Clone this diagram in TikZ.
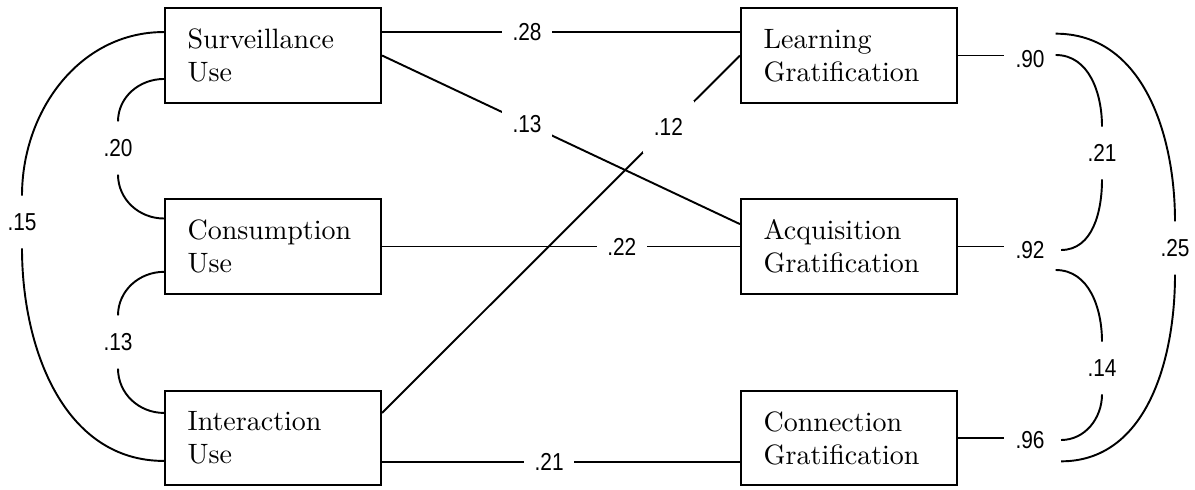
\documentclass[tikz,border=0pt]{standalone}
\usepackage{fontspec}
\newfontfamily\numfont[FakeStretch=0.85]{Liberation Sans}
\usepackage{tikz}
\usetikzlibrary{positioning}

\begin{document}
\begin{tikzpicture}[x=0.375pt, y=-0.375pt,
    var/.style={draw, line width=0.8pt, minimum height=35.5pt, text width=64pt,
      inner xsep=8.5pt, align=left, font=\fontsize{10.5}{12.4}\selectfont},
    coef/.style={font=\numfont\fontsize{9.2}{10}\selectfont, inner xsep=4pt, inner ysep=6.5pt},
    link/.style={line width=0.72pt}]
            \useasboundingbox (0,0) rectangle (1195,489);

            % the uses on the left
            \node[var] (sur) at (273,55.5) {Surveillance\\Use};
            \node[var] (con) at (273,246.5) {Consumption\\Use};
            \node[var] (int) at (273,438) {Interaction\\Use};

            % the gratifications on the right
            \node[var] (lrn) at (849,55.5) {Learning\\Gratification};
            \node[var] (acq) at (849,246.5) {Acquisition\\Gratification};
            \node[var] (cnn) at (849,438) {Connection\\Gratification};

            % the paths between them
            \draw[link] ([yshift=8.8pt]sur.east) -- node[coef, fill=white, pos=.405] {.28} ([yshift=8.8pt]lrn.west);
            \draw[link] (sur.east) -- node[coef, fill=white, pos=.405] {.13} ([yshift=8.4pt]acq.west);
            \draw[link] ([yshift=9.4pt]int.east) -- node[coef, fill=white, pos=.8] {.12} (lrn.west);
            \draw[link] (con.east) -- node[coef, fill=white, pos=.67] {.22} (acq.west);
            \draw[link] ([yshift=-9pt]int.east) -- node[coef, fill=white, pos=.467] {.21} ([yshift=-9pt]cnn.west);

            % the residuals and correlations on the right
            \node[coef] (r1) at (1030,59) {.90};
            \node[coef] (r2) at (1030,250) {.92};
            \node[coef] (r3) at (1030,440) {.96};
            \draw[link] (lrn.east) -- (lrn.east -| r1.west);
            \draw[link] (acq.east) -- (acq.east -| r2.west);
            \draw[link] (cnn.east) -- (cnn.east -| r3.west);

            \node[coef] (c12) at (1102,153) {.21};
            \node[coef] (c23) at (1102,368) {.14};
            \node[coef] (c13) at (1175,248) {.25};
            \draw[link] ([yshift=1.5pt]r1.east) to[out=0,in=90] (c12.north);
            \draw[link] (c12.south) to[out=-90,in=0] ([xshift=2pt]r2.east);
            \draw[link] ([yshift=-7.5pt]r2.east) to[out=0,in=90] (c23.north);
            \draw[link] (c23.south) to[out=-90,in=0] ([xshift=2pt]r3.east);
            \draw[link] ([yshift=9.5pt]r1.east) to[out=0,in=90] (c13.north);
            \draw[link] (c13.south) to[out=-90,in=0] ([xshift=2pt,yshift=-8pt]r3.east);

            % the correlations on the left
            \node[coef] (u12) at (118,148) {.20};
            \node[coef] (u23) at (118,342) {.13};
            \node[coef] (u13) at (22,222) {.15};
            \draw[link] ([yshift=-8.8pt]sur.west) to[out=180,in=90] (u12.north);
            \draw[link] (u12.south) to[out=-90,in=180] ([yshift=10.5pt]con.west);
            \draw[link] ([yshift=-9.5pt]con.west) to[out=180,in=90] (u23.north);
            \draw[link] (u23.south) to[out=-90,in=180] ([yshift=9.4pt]int.west);
            \draw[link] ([yshift=8.8pt]sur.west) to[out=180,in=90] (u13.north);
            \draw[link] (u13.south) to[out=-90,in=180] ([yshift=-8.6pt]int.west);
\end{tikzpicture}
\end{document}
